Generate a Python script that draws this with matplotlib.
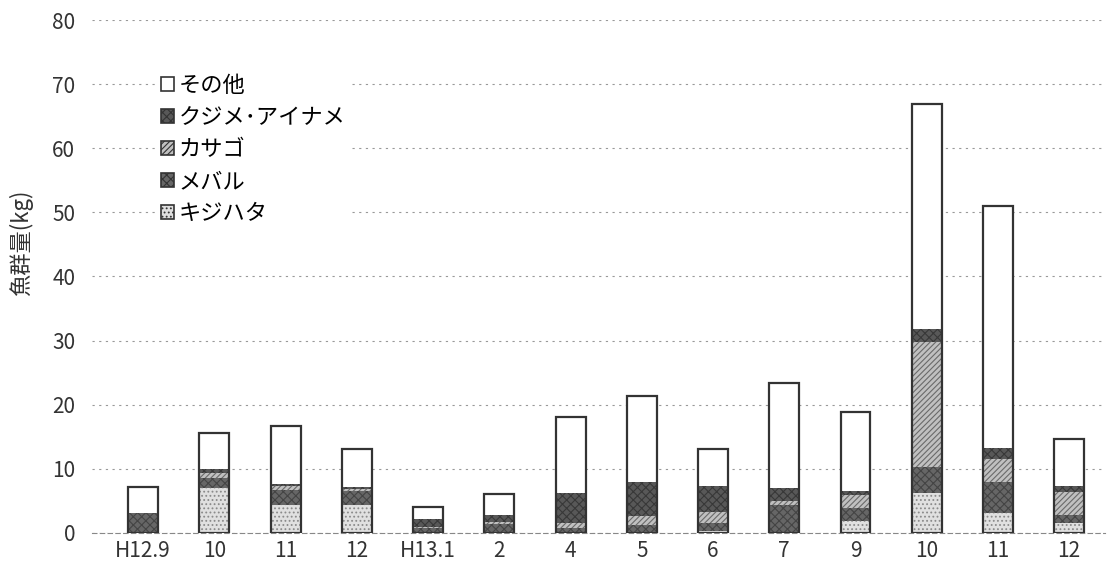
import numpy as np
import matplotlib
matplotlib.use("Agg")
import matplotlib.pyplot as plt
from matplotlib.patches import Patch

plt.rcParams['font.family'] = ['Noto Sans CJK JP', 'DejaVu Sans']
plt.rcParams['hatch.linewidth'] = 0.8

months = ["H12.9", "10", "11", "12", "H13.1", "2", "4", "5", "6", "7", "9", "10", "11", "12"]

# kg, bottom to top
kijihata = [0.0, 7.0, 4.4, 4.4, 0.0, 0.0, 0.0, 0.0, 0.3, 0.0, 1.8, 6.2, 3.1, 1.5]
mebaru   = [3.1, 1.6, 2.3, 2.2, 0.7, 1.4, 0.8, 1.2, 1.2, 4.4, 2.0, 4.1, 4.9, 1.3]
kasago   = [0.0, 0.7, 0.6, 0.3, 0.2, 0.3, 0.7, 1.4, 1.7, 0.5, 2.1, 19.4, 3.5, 3.6]
kujime   = [0.0, 0.6, 0.3, 0.3, 1.2, 1.1, 4.7, 5.3, 4.1, 2.1, 0.7, 2.1, 1.7, 0.9]
sonota   = [4.0, 5.7, 9.1, 5.9, 1.9, 3.2, 11.8, 13.4, 5.8, 16.4, 12.3, 35.1, 37.8, 7.3]

series = [
    ("キジハタ", kijihata, "#e0e0e0", "#8a8a8a", "...."),
    ("メバル", mebaru, "#666666", "#444444", "xxxx"),
    ("カサゴ", kasago, "#c0c0c0", "#6a6a6a", "//////"),
    ("クジメ･アイナメ", kujime, "#585858", "#383838", "xxxx"),
    ("その他", sonota, "white", "white", None),
]

fig = plt.figure(figsize=(11.07, 5.76), dpi=100)
ax = fig.add_axes([0.083, 0.075, 0.915, 0.89])

x = np.arange(len(months))
w = 0.42
bottom = np.zeros(len(months))
handles = []
for name, vals, fc, hc, hatch in series:
    vals = np.array(vals)
    ax.bar(x, vals, w, bottom=bottom, color=fc, edgecolor=hc, linewidth=0,
           hatch=hatch, zorder=2)
    bottom += vals
    handles.append(Patch(facecolor=fc, edgecolor="#333333", hatch=hatch, linewidth=1.2))

# outline of whole bar
ax.bar(x, bottom, w, facecolor="none", edgecolor="#333333", linewidth=1.6, zorder=3)

ax.set_ylim(0, 80)
ax.set_xlim(-0.72, 13.5)
ax.set_yticks(np.arange(0, 81, 10))
ax.set_xticks(x)
ax.set_xticklabels(months)
ax.tick_params(axis="both", length=0, labelsize=15, colors="#333333")
ax.tick_params(axis="x", pad=5)
ax.tick_params(axis="y", pad=12)
ax.yaxis.grid(True, color="#999999", linestyle=(0, (2, 4)), linewidth=0.8, zorder=0)
for s in ["top", "right", "left"]:
    ax.spines[s].set_visible(False)
ax.spines["bottom"].set_color("#888888")
ax.spines["bottom"].set_linestyle((0, (4, 3)))
ax.set_ylabel("魚群量(kg)", fontsize=16, color="#333333")
ax.yaxis.set_label_coords(-0.058, 0.565)

leg = ax.legend(handles[::-1], [s[0] for s in series][::-1], loc="upper left",
                bbox_to_anchor=(0.053, 0.925), frameon=True, framealpha=1,
                edgecolor="white", fontsize=16, handlelength=0.6, handleheight=0.6,
                handletextpad=0.2, labelspacing=0.4, borderpad=0.2)
leg.set_zorder(4)

fig.savefig("out.png", dpi=100)
